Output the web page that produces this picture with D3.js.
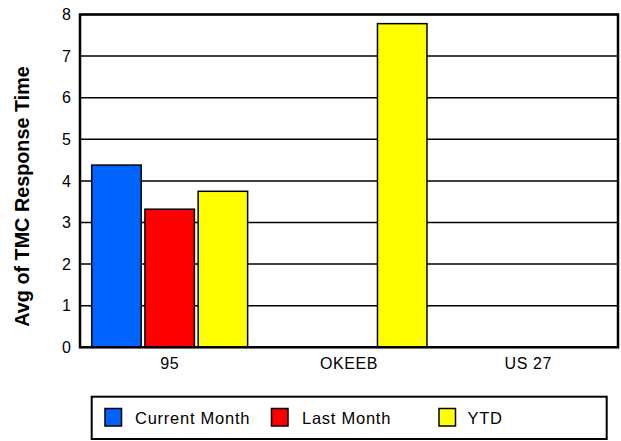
<!DOCTYPE html>
<html>
<head>
<meta charset="utf-8">
<script src="https://cdn.jsdelivr.net/npm/d3@7"></script>
<style>
  body { margin: 0; background: #fff; }
  text { font-family: "Liberation Sans", Arial, sans-serif; fill: #000; }
</style>
</head>
<body>
<div id="chart"></div>
<script>
// chart data
const categories = ['95', 'OKEEB', 'US 27'];
const seriesNames = ['Current Month', 'Last Month', 'YTD'];
const currentMonth = [4.38, null, null];
const lastMonth = [3.32, null, null];
const ytd = [3.75, 7.78, null];
const yTicks = [0, 1, 2, 3, 4, 5, 6, 7, 8];
const colors = ['#0062ff', '#ff0000', '#ffff00'];

const W = 621, H = 441;
const plot = { left: 80, right: 618, top: 14.5, bottom: 347.3 };

const svg = d3.select('#chart')
  .append('svg')
  .attr('width', W)
  .attr('height', H);

const x = d3.scaleBand()
  .domain(categories)
  .range([plot.left, plot.right])
  .padding(0);

const xSub = d3.scaleBand()
  .domain(seriesNames)
  .range([11.7, x.bandwidth() - 11.7])
  .paddingInner(0.07)
  .paddingOuter(0);

const y = d3.scaleLinear()
  .domain([0, 8])
  .range([plot.bottom, plot.top]);

// gridlines
svg.append('g')
  .selectAll('line')
  .data(yTicks)
  .enter()
  .append('line')
  .attr('x1', plot.left)
  .attr('x2', plot.right)
  .attr('y1', d => y(d))
  .attr('y2', d => y(d))
  .attr('stroke', '#000')
  .attr('stroke-width', 1.5);

// bars
const allSeries = [currentMonth, lastMonth, ytd];
const barData = [];
allSeries.forEach((vals, si) => {
  vals.forEach((v, ci) => {
    if (v != null) barData.push({ cat: categories[ci], series: seriesNames[si], value: v, color: colors[si] });
  });
});

svg.append('g')
  .selectAll('rect')
  .data(barData)
  .enter()
  .append('rect')
  .attr('x', d => x(d.cat) + xSub(d.series))
  .attr('y', d => y(d.value))
  .attr('width', xSub.bandwidth())
  .attr('height', d => y(0) - y(d.value))
  .attr('fill', d => d.color)
  .attr('stroke', '#000')
  .attr('stroke-width', 1.5);

// plot frame
svg.append('rect')
  .attr('x', plot.left)
  .attr('y', plot.top)
  .attr('width', plot.right - plot.left)
  .attr('height', plot.bottom - plot.top)
  .attr('fill', 'none')
  .attr('stroke', '#000')
  .attr('stroke-width', 2.5);

// y axis labels
const yAxis = svg.append('g')
  .attr('transform', `translate(${plot.left},0)`)
  .call(d3.axisLeft(y).tickValues(yTicks).tickSize(0).tickPadding(9).tickFormat(d3.format('d')));
yAxis.select('.domain').remove();
yAxis.selectAll('text')
  .style('font-size', '16px')
  .style('font-family', '"Liberation Sans", Arial, sans-serif');

// x axis labels
const xAxis = svg.append('g')
  .attr('transform', `translate(0,${plot.bottom})`)
  .call(d3.axisBottom(x).tickSize(0).tickPadding(10));
xAxis.select('.domain').remove();
xAxis.selectAll('text')
  .style('font-size', '16px')
  .style('letter-spacing', '0.6px')
  .style('font-family', '"Liberation Sans", Arial, sans-serif');

// y title
svg.append('text')
  .attr('transform', 'translate(28.5,196.5) rotate(-90)')
  .attr('text-anchor', 'middle')
  .style('font-size', '19.8px')
  .style('font-weight', 'bold')
  .text('Avg of TMC Response Time');

// legend
const legend = svg.append('g');
legend.append('rect')
  .attr('x', 91.7)
  .attr('y', 396.7)
  .attr('width', 515)
  .attr('height', 42.3)
  .attr('fill', '#fff')
  .attr('stroke', '#000')
  .attr('stroke-width', 2);

const legendX = [105, 271.5, 439];
const item = legend.selectAll('g.item')
  .data(seriesNames)
  .enter()
  .append('g')
  .attr('class', 'item')
  .attr('transform', (d, i) => `translate(${legendX[i]},408.5)`);

item.append('rect')
  .attr('width', 16.5)
  .attr('height', 17.5)
  .attr('fill', (d, i) => colors[i])
  .attr('stroke', '#000')
  .attr('stroke-width', 1.5);

item.append('text')
  .attr('x', (d, i) => [30, 30.5, 28.5][i])
  .attr('y', 15.5)
  .style('font-size', '16.5px')
  .style('letter-spacing', '0.75px')
  .text(d => d);
</script>
</body>
</html>
